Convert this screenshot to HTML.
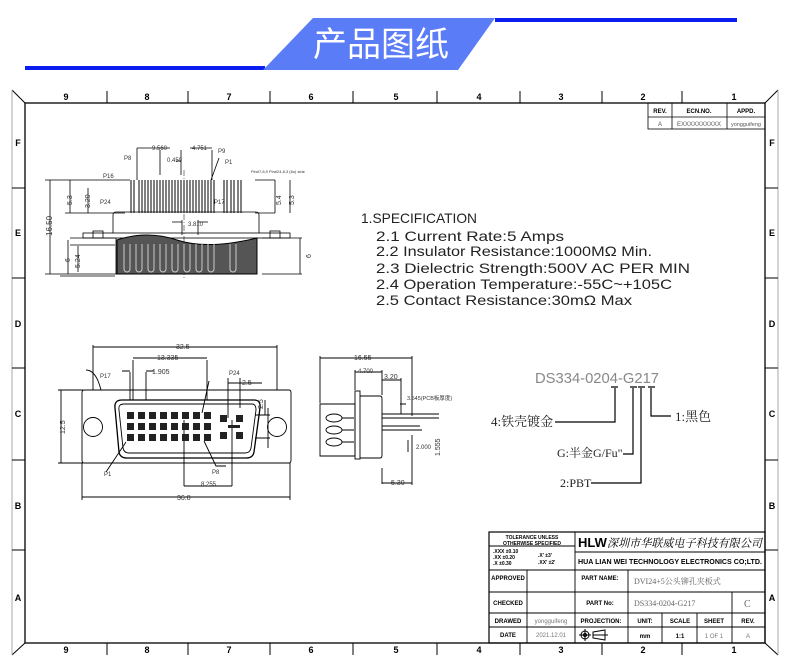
<!DOCTYPE html>
<html><head><meta charset="utf-8"><style>
html,body{margin:0;padding:0;background:#fff;}
svg{display:block;}
text{font-family:"Liberation Sans","Noto Sans CJK SC",sans-serif;}
.s text, text.s{font-family:"Liberation Serif","Noto Serif CJK SC",serif;}
</style></head><body>
<svg width="790" height="663" viewBox="0 0 790 663" xmlns="http://www.w3.org/2000/svg">
<rect x="25" y="66" width="240" height="4" fill="#0a1ef0"/>
<rect x="495" y="18" width="242" height="4" fill="#0a1ef0"/>
<polygon points="263,70 313,18 495,18 458,70" fill="#5b7cf7"/>
<text x="381" y="56" font-size="34" fill="#fff" text-anchor="middle" font-family="Noto Sans CJK SC,sans-serif">产品图纸</text>

<g stroke="#000" fill="none" stroke-width="1">
<rect x="25" y="103" width="740" height="540" stroke-width="1.3"/>
<line x1="12" y1="90" x2="25" y2="103"/><line x1="778" y1="90" x2="765" y2="103"/>
<line x1="12" y1="655" x2="25" y2="643"/><line x1="778" y1="655" x2="765" y2="643"/>
<line x1="12" y1="90" x2="12" y2="655" stroke="#aaa"/><line x1="778" y1="90" x2="778" y2="655" stroke="#aaa"/>
<g>
<line x1="107" y1="91" x2="107" y2="103"/><line x1="188" y1="91" x2="188" y2="103"/><line x1="270" y1="91" x2="270" y2="103"/><line x1="353" y1="91" x2="353" y2="103"/><line x1="437" y1="91" x2="437" y2="103"/><line x1="520" y1="91" x2="520" y2="103"/><line x1="602" y1="91" x2="602" y2="103"/><line x1="682" y1="91" x2="682" y2="103"/>
<line x1="107" y1="643" x2="107" y2="655"/><line x1="188" y1="643" x2="188" y2="655"/><line x1="270" y1="643" x2="270" y2="655"/><line x1="353" y1="643" x2="353" y2="655"/><line x1="437" y1="643" x2="437" y2="655"/><line x1="520" y1="643" x2="520" y2="655"/><line x1="602" y1="643" x2="602" y2="655"/><line x1="682" y1="643" x2="682" y2="655"/>
<line x1="12" y1="188" x2="25" y2="188"/><line x1="12" y1="278" x2="25" y2="278"/><line x1="12" y1="368" x2="25" y2="368"/><line x1="12" y1="460" x2="25" y2="460"/><line x1="12" y1="550" x2="25" y2="550"/>
<line x1="765" y1="188" x2="778" y2="188"/><line x1="765" y1="278" x2="778" y2="278"/><line x1="765" y1="368" x2="778" y2="368"/><line x1="765" y1="460" x2="778" y2="460"/><line x1="765" y1="550" x2="778" y2="550"/>
</g>
</g>
<g font-size="9" font-weight="bold" text-anchor="middle">
<text x="66" y="100">9</text><text x="147" y="100">8</text><text x="229" y="100">7</text><text x="311" y="100">6</text><text x="396" y="100">5</text><text x="479" y="100">4</text><text x="561" y="100">3</text><text x="643" y="100">2</text><text x="734" y="100">1</text>
<text x="66" y="653">9</text><text x="147" y="653">8</text><text x="229" y="653">7</text><text x="311" y="653">6</text><text x="396" y="653">5</text><text x="479" y="653">4</text><text x="561" y="653">3</text><text x="643" y="653">2</text><text x="734" y="653">1</text>
<text x="18" y="146">F</text><text x="18" y="236">E</text><text x="18" y="327">D</text><text x="18" y="417">C</text><text x="18" y="509">B</text><text x="18" y="601">A</text>
<text x="772" y="146">F</text><text x="772" y="236">E</text><text x="772" y="327">D</text><text x="772" y="417">C</text><text x="772" y="509">B</text><text x="772" y="601">A</text>
</g>

<g stroke="#000" fill="none" stroke-width="0.8">
<rect x="648" y="103" width="117" height="26"/>
<line x1="648" y1="117" x2="765" y2="117"/>
<line x1="672" y1="103" x2="672" y2="129"/><line x1="727" y1="103" x2="727" y2="129"/>
</g>
<g font-size="6" text-anchor="middle">
<text x="660" y="113" font-weight="bold">REV.</text><text x="699" y="113" font-weight="bold">ECN.NO.</text><text x="746" y="113" font-weight="bold">APPD.</text>
<text x="660" y="126" fill="#555">A</text><text x="699" y="126" fill="#555">EXXXXXXXXXX</text><text x="746" y="126" fill="#555" font-size="5.5">yongguifeng</text>
</g>

<g stroke="#000" fill="none" stroke-width="0.8">
<g stroke-width="1">
<path d="M131 180v33M134 180v33M139 180v33M142 180v33M145 180v33M148 180v33M151 180v33M154 180v33M157 180v33M160 180v33M163 180v33M166 180v33M169 180v33M172 180v33M175 180v33M178 180v33M181 180v33M184 180v33M187 180v33M190 180v33M193 180v33M196 180v33M199 180v33M202 180v33M205 180v33M208 180v33M211 180v33M214 180v33"/>
<path d="M224 180v33M227 180v33M231 180v33M234 180v33M238 180v33M241 180v33"/>
</g>
<path d="M113 233V215q0-3 3-3h140q3 0 3 3v18" />
<rect x="83" y="233" width="207" height="5"/>
<rect x="93" y="231" width="10" height="7"/><rect x="270" y="231" width="10" height="7"/>
<path d="M116 238v36h141v-36"/>
<path d="M45 180h70M45 274h72M75 180h55M65 213h60M255 180h20M255 213h20M262 238h40M262 274h40M70 245h45M70 238h45M60 276h55"/>
<path d="M50 180v94M70 180v33M88 188v25M275 180v33M290 180v33M300 238v36M68 240v34M78 246v26"/>
<path d="M137 148v32M212 150v30M160 150v25M181 150v25M137 148h33M190 148h22M181 161h-5M211 180l8-22"/>
<path d="M182 220v15M198 220v15M182 222h-10M198 222h10"/>
<line x1="184" y1="170" x2="184" y2="280" stroke-dasharray="6 2 1 2" stroke-width="0.5"/>
</g>
<path d="M117 240q30-10 60 0t80-2v36H117z" fill="#555" stroke="#000"/>
<g stroke="#ccc" stroke-width="1" fill="none">
<path d="M124 244v25a3 3 0 0 0 6 0v-25M136 244v25a3 3 0 0 0 6 0v-25M148 244v25a3 3 0 0 0 6 0v-25M160 244v25a3 3 0 0 0 6 0v-25M172 244v25a3 3 0 0 0 6 0v-25M184 244v25a3 3 0 0 0 6 0v-25M196 244v25a3 3 0 0 0 6 0v-25M208 244v25a3 3 0 0 0 6 0v-25M230 244v25a3 3 0 0 0 6 0v-25"/>
</g>
<g font-size="6" fill="#333">
<text x="152" y="150">9.560</text><text x="192" y="150">4.751</text><text x="167" y="162">0.450</text>
<text x="124" y="160">P8</text><text x="218" y="153">P9</text><text x="225" y="164">P1</text><text x="103" y="178">P16</text><text x="100" y="204">P24</text><text x="214" y="204">P17</text>
<text x="188" y="226">3.810</text><text x="251" y="173" font-size="4">Pin#7,8,9 Pin#24,8,3 (6u) side</text>
<text x="52" y="236" font-size="8" transform="rotate(-90 52 236)">16.50</text>
<text x="72" y="205" font-size="7" transform="rotate(-90 72 205)">5.3</text>
<text x="90" y="208" font-size="7" transform="rotate(-90 90 208)">3.20</text>
<text x="281" y="205" font-size="7" transform="rotate(-90 281 205)">5.4</text>
<text x="294" y="205" font-size="7" transform="rotate(-90 294 205)">5.3</text>
<text x="70" y="262" font-size="7" transform="rotate(-90 70 262)">6</text>
<text x="80" y="268" font-size="7" transform="rotate(-90 80 268)">5.24</text>
<text x="311" y="258" font-size="7" transform="rotate(-90 311 258)">6</text>
</g>

<g stroke="#000" fill="none" stroke-width="0.9">
<path d="M84 390h205q2 0 2 3v67q0 3-2 3H84q-2 0-2-3v-67q0-3 2-3z"/>
<circle cx="93" cy="427" r="9.5"/><circle cx="277" cy="427" r="9.5"/>
<path d="M122 400h132q7 0 6 8l-6 44q-1 6-8 6H127q-7 0-8-6l-4-44q-1-8 7-8z" stroke-width="1.3"/>
<path d="M124 404h128q4 0 4 6l-5 38q-1 5-6 5H129q-5 0-6-5l-4-38q-1-6 5-6z"/>
<path d="M93 345v45M277 345v45M133 360v40M207 360v40M130 372v28M146 372v28M82 463v37M290 463v37M184 420v66M232 420v66M228 378v40M240 378v30M268 408v40M58 390h25M58 463h25M255 415h15M255 438h15"/>
<path d="M93 347h184M133 358h74M122 371h8M146 371h8M228 383h34M82 497h208M184 486h48M61 390v73M265 400v15"/>
<path d="M86 370q10 0 15 20M209 381l-7 32M106 472l20-30M226 466h-10l-12-25"/>
</g>
<g fill="#222">
<g id="row"><rect x="127" y="412" width="7" height="7"/><rect x="138" y="412" width="7" height="7"/><rect x="149" y="412" width="7" height="7"/><rect x="160" y="412" width="7" height="7"/><rect x="171" y="412" width="7" height="7"/><rect x="182" y="412" width="7" height="7"/><rect x="193" y="412" width="7" height="7"/><rect x="204" y="412" width="7" height="7"/></g>
<use href="#row" y="11"/><use href="#row" y="22"/>
<rect x="220" y="415" width="7" height="7"/><rect x="236" y="415" width="7" height="7"/><rect x="220" y="432" width="7" height="7"/><rect x="236" y="432" width="7" height="7"/>
<rect x="228" y="425" width="12" height="3"/>
</g>
<g font-size="7" fill="#333">
<text x="176" y="349">32.5</text><text x="157" y="360">13.335</text><text x="152" y="374">1.905</text><text x="242" y="385">2.5</text>
<text x="100" y="378" font-size="6">P17</text><text x="229" y="375" font-size="6">P24</text><text x="104" y="476" font-size="6">P1</text><text x="212" y="474" font-size="6">P8</text>
<text x="201" y="486" font-size="6">8.255</text><text x="177" y="500">36.8</text>
<text x="65" y="434" transform="rotate(-90 65 434)">12.5</text><text x="263" y="409" transform="rotate(-90 263 409)">2.5</text>
</g>

<g stroke="#000" fill="none" stroke-width="0.9">
<path d="M320 404h35v52h-35z"/>
<rect x="355" y="391" width="5" height="68"/>
<path d="M360 396h20q2 0 2 3v56q0 3-2 3h-20"/>
<path d="M382 414h57M382 418h57M382 426h38M382 430h40"/>
<path d="M320 356v47M412 356v60M355 370v20M382 370v25M401 378v36M382 468v16M412 435v50"/>
<path d="M320 358h92M355 372h27M382 380h19M382 483h30M408 440v12M400 404h6"/>
<ellipse cx="334" cy="418" rx="8" ry="4"/><ellipse cx="334" cy="430" rx="8" ry="4"/><ellipse cx="334" cy="442" rx="8" ry="4"/>
<path d="M342 418h12M342 430h12M342 442h12"/>
</g>
<g font-size="7" fill="#333">
<text x="354" y="360">16.55</text><text x="358" y="373" font-size="6">4.700</text><text x="384" y="379">3.20</text>
<text x="407" y="400" font-size="5.5">3.545(PCB板厚度)</text><text x="416" y="449" font-size="6">2.000</text>
<text x="391" y="485">5.30</text><text x="440" y="456" transform="rotate(-90 440 456)">1.555</text>
</g>

<g font-size="14" fill="#222">
<text x="361" y="223" textLength="116" lengthAdjust="spacingAndGlyphs">1.SPECIFICATION</text>
<text x="376" y="241" textLength="188" lengthAdjust="spacingAndGlyphs">2.1 Current Rate:5 Amps</text>
<text x="376" y="256" textLength="276" lengthAdjust="spacingAndGlyphs">2.2 Insulator Resistance:1000MΩ Min.</text>
<text x="376" y="273" textLength="314" lengthAdjust="spacingAndGlyphs">2.3 Dielectric Strength:500V AC PER MIN</text>
<text x="376" y="289" textLength="296" lengthAdjust="spacingAndGlyphs">2.4 Operation Temperature:-55C~+105C</text>
<text x="376" y="305" textLength="256" lengthAdjust="spacingAndGlyphs">2.5 Contact Resistance:30mΩ Max</text>
</g>

<text x="535" y="383" font-size="15" fill="#888" textLength="124" lengthAdjust="spacingAndGlyphs">DS334-0204-G217</text>
<g stroke="#000" fill="none" stroke-width="1.2">
<path d="M611 387h7M630 387h7M638 387h7M648 387h7"/>
<path d="M615 388v34h-60M633 388v66h-10M641 388v95h-50M651 388v28h20"/>
</g>
<g font-size="13" class="s" fill="#222">
<text x="491" y="426">4:铁壳镀金</text>
<text x="557" y="457" font-size="12">G:半金G/Fu"</text>
<text x="560" y="487" font-size="12">2:PBT</text>
<text x="675" y="421">1:黑色</text>
</g>

<g stroke="#000" fill="none" stroke-width="0.9">
<rect x="489" y="532" width="276" height="111" stroke-width="1.2"/>
<path d="M489 570h276M489 592h276M489 613h276M489 627h276M575 552h190"/>
<path d="M575 532v111M527 570v73M628 570v73M628 613v30M662 613v30M697 613v30M732 592v51"/>
<path d="M489 546h86"/>
</g>
<g font-size="6" font-weight="bold" text-anchor="middle">
<text x="532" y="539" font-size="5">TOLERANCE UNLESS</text><text x="532" y="545" font-size="5">OTHERWISE SPECIFIED</text>
<text x="508" y="580">APPROVED</text><text x="508" y="605">CHECKED</text><text x="508" y="623">DRAWED</text><text x="508" y="637">DATE</text>
<text x="600" y="580">PART NAME:</text><text x="600" y="605">PART No:</text><text x="601" y="623">PROJECTION:</text>
<text x="645" y="623">UNIT:</text><text x="680" y="623">SCALE</text><text x="714" y="623">SHEET</text><text x="748" y="623">REV.</text>
<text x="645" y="638">mm</text><text x="680" y="638">1:1</text>
</g>
<g font-size="5" font-weight="bold">
<text x="493" y="553">.XXX ±0.10</text><text x="493" y="559">.XX  ±0.20</text><text x="493" y="565">.X   ±0.30</text>
<text x="538" y="557">.X'  ±3'</text><text x="538" y="564">.XX' ±2'</text>
</g>
<text x="578" y="547" font-size="13" font-weight="bold">HLW</text>
<text x="607" y="547" font-size="11.5" class="s" font-style="italic" textLength="155" lengthAdjust="spacingAndGlyphs">深圳市华联威电子科技有限公司</text>
<text x="578" y="564" font-size="7" font-weight="bold" textLength="184" lengthAdjust="spacingAndGlyphs">HUA LIAN WEI TECHNOLOGY ELECTRONICS CO;LTD.</text>
<g class="s" fill="#666" font-size="8">
<text x="634" y="584">DVI24+5公头铆孔夹板式</text><text x="634" y="606">DS334-0204-G217</text>
<text x="744" y="607" font-size="10">C</text>
</g>
<g fill="#777" font-size="6" text-anchor="middle">
<text x="551" y="623">yongguifeng</text><text x="551" y="637">2021.12.01</text><text x="714" y="638">1 OF 1</text><text x="748" y="638">A</text>
</g>
<g stroke="#000" fill="none" stroke-width="1">
<circle cx="585" cy="635" r="4"/><circle cx="585" cy="635" r="1.5"/><path d="M579 635h12M585 629v12M593 632l12-2v10l-12-2zM593 635h15"/>
</g>
</svg>
</body></html>
